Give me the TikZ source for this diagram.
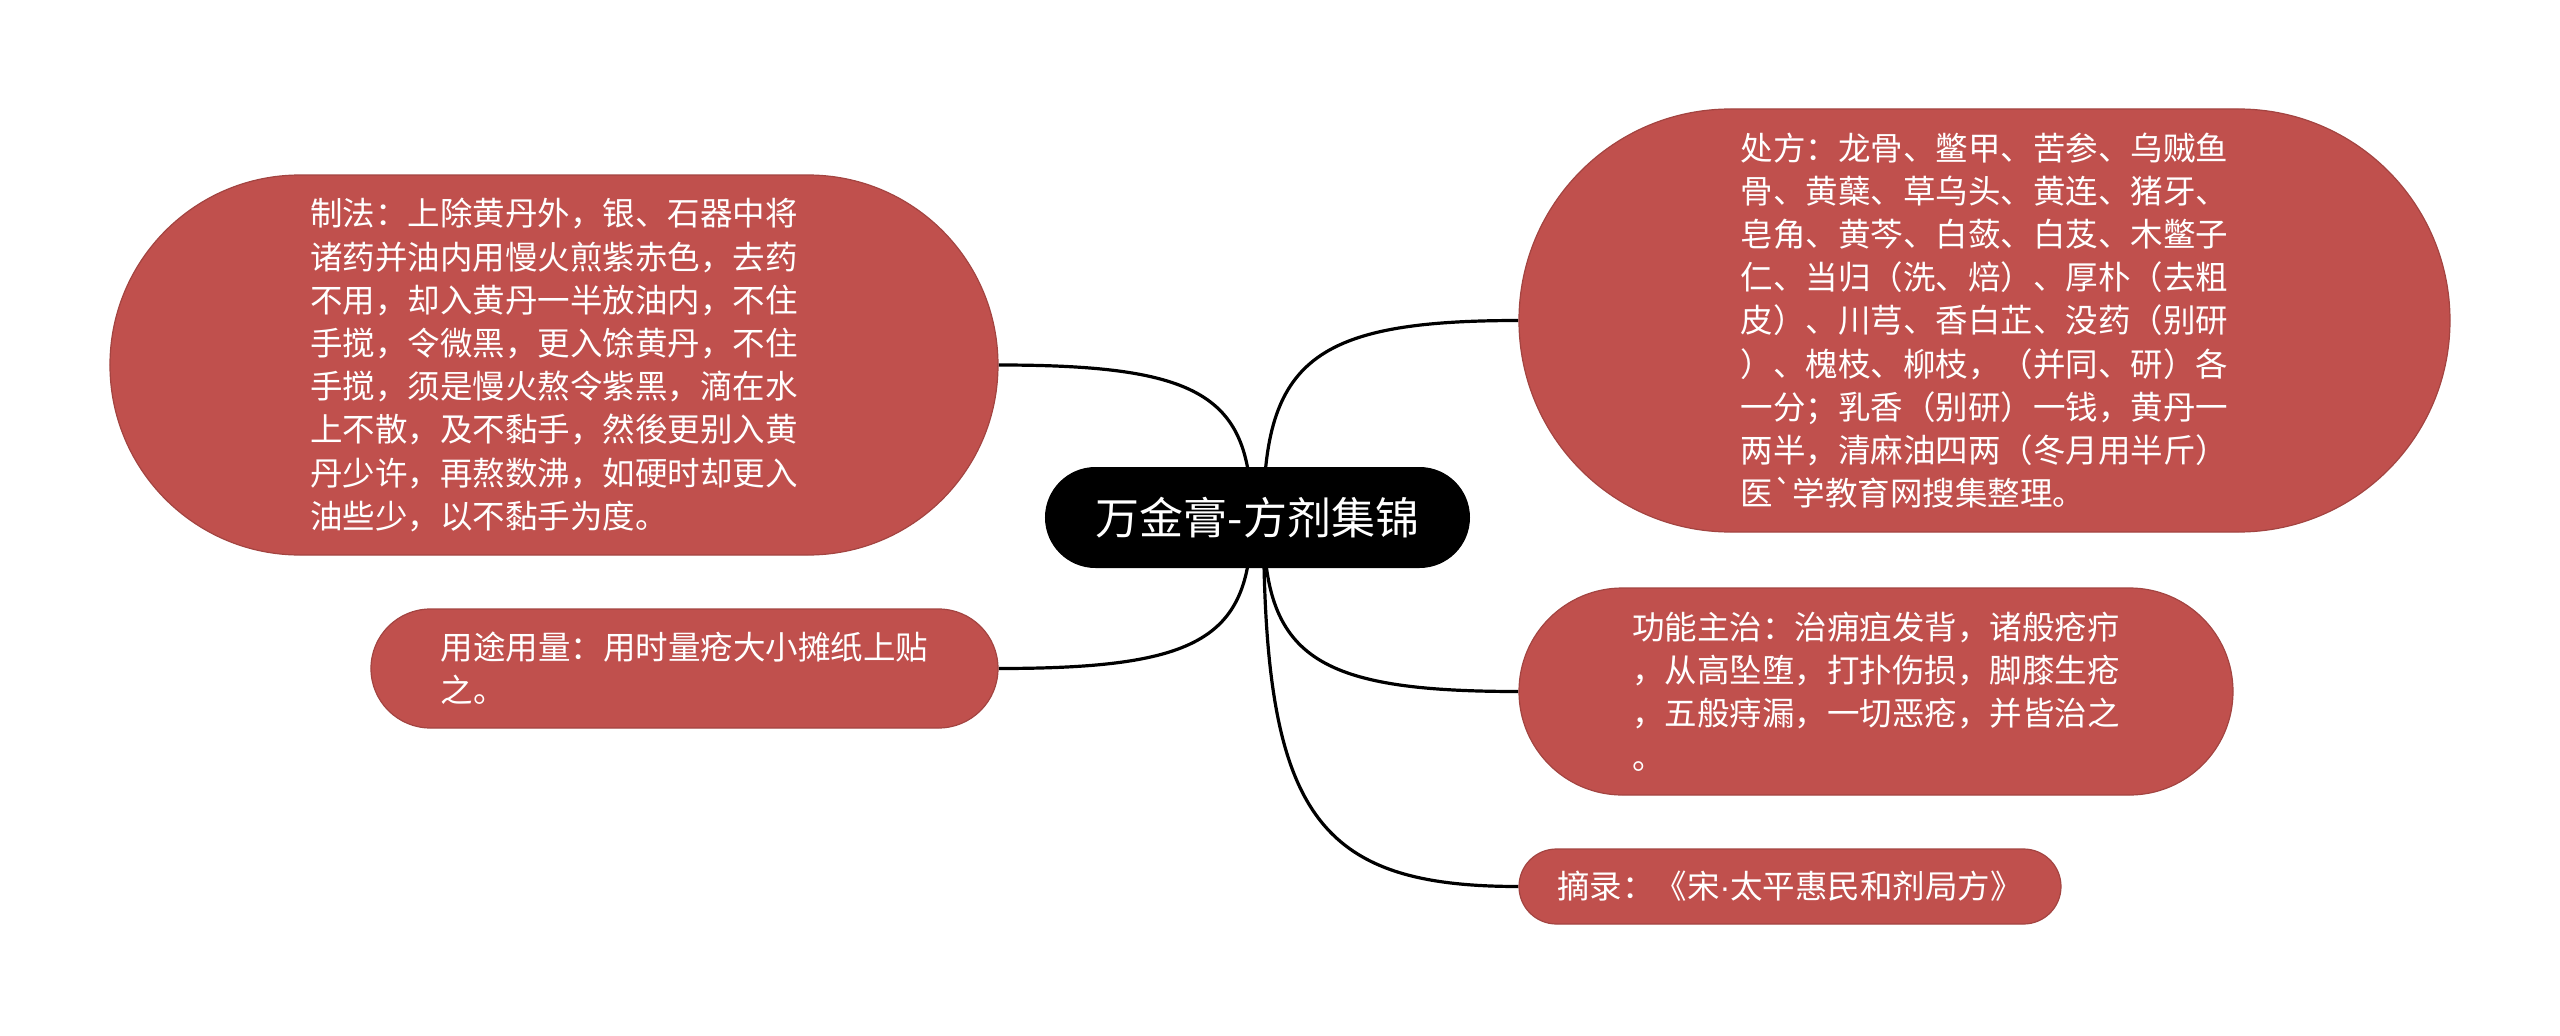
\documentclass[tikz,border=0pt]{standalone}
\usepackage{fontspec}
\setmainfont{Noto Sans CJK SC}[Ligatures=TeXOff]
\newfontfamily\dotfont{Liberation Sans}
\usepackage{tikz}
\usetikzlibrary{shapes.misc,positioning,calc,backgrounds}

\definecolor{leafred}{HTML}{C0504D}

\begin{document}
\begin{tikzpicture}[
    node distance=23pt and 24pt,
    rootnode/.style={rounded rectangle, fill=black, text=white, inner sep=0pt,
        minimum width=212.5pt, minimum height=50.5pt,
        font=\fontsize{22pt}{26pt}\selectfont},
    leafnode/.style={rounded rectangle, fill=leafred, draw=leafred!85!black, line width=0.6pt,
        text=white, align=left, inner sep=0pt,
        font=\fontsize{16.25pt}{21.6pt}\selectfont},
    branch/.style={line width=1.6pt,
        to path={.. controls ($(\tikztostart)!0.8!(\tikztostart |- \tikztotarget)$) and ($(\tikztotarget)!0.8!(\tikztostart |- \tikztotarget)$) .. (\tikztotarget)}}
]
\useasboundingbox (-628.75pt,-258.75pt) rectangle (651.25pt,258.75pt);

\node[rootnode] (R) at (0,0) {万金膏-方剂集锦};
\coordinate (Rl) at ([xshift=-3pt]R.center);
\coordinate (Rr) at ([xshift=3pt]R.center);

% left branches
\node[leafnode, minimum width=444pt, minimum height=190pt] (ZF) [left=23pt of R, yshift=76.25pt]
    {制法：上除黄丹外，银、石器中将\\诸药并油内用慢火煎紫赤色，去药\\不用，却入黄丹一半放油内，不住\\手搅，令微黑，更入馀黄丹，不住\\手搅，须是慢火熬令紫黑，滴在水\\上不散，及不黏手，然後更别入黄\\丹少许，再熬数沸，如硬时却更入\\油些少，以不黏手为度。};
\node[leafnode, minimum width=313.5pt, minimum height=59.5pt] (YT) [left=23pt of R, yshift=-75.5pt]
    {用途用量：用时量疮大小摊纸上贴\\之。};

% right branches
\node[leafnode, minimum width=465.5pt, minimum height=211.5pt] (CF) [right=24pt of R, yshift=98.5pt]
    {处方：龙骨、鳖甲、苦参、乌贼鱼\\骨、黄蘖、草乌头、黄连、猪牙、\\皂角、黄芩、白蔹、白芨、木鳖子\\仁、当归（洗、焙）、厚朴（去粗\\皮）、川芎、香白芷、没药（别研\\）、槐枝、柳枝，（并同、研）各\\一分；乳香（别研）一钱，黄丹一\\两半，清麻油四两（冬月用半斤）\\医`学教育网搜集整理。};
\node[leafnode, minimum width=357pt, minimum height=103.5pt] (GN) [right=24pt of R, yshift=-87pt]
    {功能主治：治痈疽发背，诸般疮疖\\，从高坠堕，打扑伤损，脚膝生疮\\，五般痔漏，一切恶疮，并皆治之\\。};
\node[leafnode, minimum width=271pt, minimum height=37.5pt] (ZL) [right=24pt of R, yshift=-184.5pt]
    {摘录：《宋{\dotfont ·}太平惠民和剂局方》};

\begin{scope}[on background layer]
\draw[branch] (Rl) to (ZF.east);
\draw[branch] (Rl) to (YT.east);
\draw[branch] (Rr) to (CF.west);
\draw[branch] (Rr) to (GN.west);
\draw[branch] (Rr) to (ZL.west);
\end{scope}
\end{tikzpicture}
\end{document}
